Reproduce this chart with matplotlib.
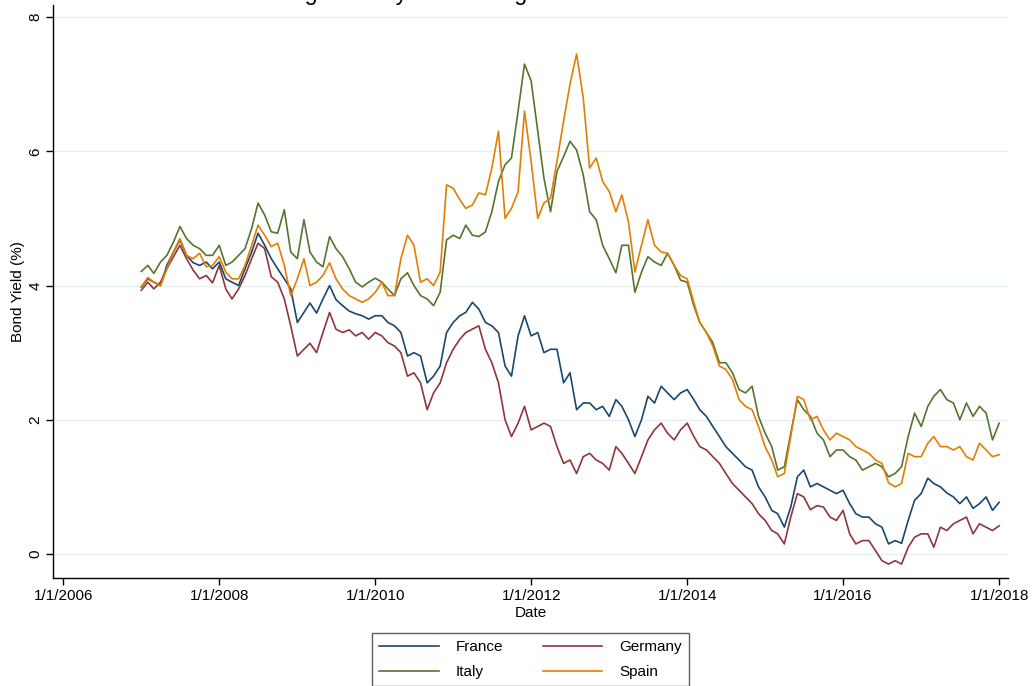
import matplotlib
matplotlib.use('Agg')
import matplotlib.pyplot as plt
import matplotlib.dates as mdates
import pandas as pd

plt.rcParams['font.family'] = ['Liberation Sans', 'DejaVu Sans']

# monthly 10-year government bond yields (%), Jan 2007 - Jan 2018
dates = pd.date_range('2007-01-01', '2018-01-01', freq='MS')

france = [
    3.98, 4.10, 4.05, 4.00, 4.30, 4.50, 4.68, 4.45, 4.34, 4.30, 4.35, 4.25,
    4.35, 4.10, 4.05, 4.00, 4.25, 4.50, 4.78, 4.60, 4.40, 4.25, 4.10, 3.95,
    3.45, 3.60, 3.74, 3.59, 3.80, 4.00, 3.79, 3.70, 3.62, 3.58, 3.55, 3.50,
    3.55, 3.55, 3.45, 3.40, 3.30, 2.95, 3.00, 2.95, 2.55, 2.65, 2.80, 3.30,
    3.45, 3.55, 3.60, 3.75, 3.65, 3.45, 3.40, 3.30, 2.80, 2.65, 3.25, 3.55,
    3.25, 3.30, 3.00, 3.05, 3.05, 2.55, 2.70, 2.15, 2.25, 2.25, 2.15, 2.20,
    2.05, 2.30, 2.20, 2.00, 1.75, 2.00, 2.35, 2.25, 2.50, 2.40, 2.30, 2.40,
    2.45, 2.30, 2.15, 2.05, 1.90, 1.75, 1.60, 1.50, 1.40, 1.30, 1.25, 1.00,
    0.85, 0.65, 0.60, 0.40, 0.70, 1.15, 1.25, 1.00, 1.05, 1.00, 0.95, 0.90,
    0.95, 0.75, 0.60, 0.55, 0.55, 0.45, 0.40, 0.15, 0.20, 0.16, 0.50, 0.80,
    0.90, 1.13, 1.05, 1.00, 0.91, 0.85, 0.75, 0.85, 0.68, 0.75, 0.85, 0.65,
    0.77,
]
germany = [
    3.93, 4.05, 3.95, 4.05, 4.25, 4.43, 4.60, 4.40, 4.23, 4.10, 4.15, 4.04,
    4.30, 3.95, 3.80, 3.95, 4.15, 4.40, 4.63, 4.55, 4.13, 4.05, 3.80, 3.40,
    2.95, 3.05, 3.14, 3.00, 3.30, 3.60, 3.35, 3.30, 3.34, 3.25, 3.30, 3.20,
    3.30, 3.25, 3.15, 3.10, 3.00, 2.65, 2.70, 2.55, 2.15, 2.40, 2.55, 2.85,
    3.05, 3.20, 3.30, 3.35, 3.40, 3.05, 2.85, 2.55, 2.00, 1.75, 1.95, 2.20,
    1.85, 1.90, 1.95, 1.90, 1.60, 1.35, 1.40, 1.20, 1.45, 1.50, 1.40, 1.35,
    1.25, 1.60, 1.50, 1.35, 1.20, 1.45, 1.70, 1.85, 1.95, 1.80, 1.70, 1.85,
    1.95, 1.75, 1.60, 1.55, 1.45, 1.35, 1.20, 1.05, 0.95, 0.85, 0.75, 0.60,
    0.50, 0.35, 0.30, 0.15, 0.55, 0.90, 0.85, 0.66, 0.72, 0.70, 0.55, 0.50,
    0.65, 0.30, 0.15, 0.20, 0.20, 0.05, -0.10, -0.15, -0.10, -0.15, 0.10, 0.25,
    0.30, 0.30, 0.10, 0.40, 0.35, 0.45, 0.50, 0.55, 0.30, 0.45, 0.40, 0.35,
    0.42,
]
italy = [
    4.21, 4.30, 4.18, 4.35, 4.45, 4.65, 4.88, 4.70, 4.60, 4.55, 4.45, 4.45,
    4.60, 4.30, 4.35, 4.45, 4.55, 4.85, 5.23, 5.05, 4.80, 4.78, 5.13, 4.50,
    4.40, 4.98, 4.50, 4.35, 4.28, 4.73, 4.55, 4.43, 4.25, 4.05, 3.98, 4.05,
    4.11, 4.05, 3.95, 3.85, 4.10, 4.19, 4.00, 3.85, 3.80, 3.70, 3.90, 4.68,
    4.75, 4.70, 4.90, 4.75, 4.73, 4.80, 5.10, 5.55, 5.80, 5.90, 6.60, 7.30,
    7.05, 6.30, 5.60, 5.10, 5.70, 5.92, 6.15, 6.02, 5.65, 5.10, 4.98, 4.60,
    4.40, 4.19, 4.60, 4.60, 3.90, 4.20, 4.43, 4.35, 4.30, 4.48, 4.30, 4.08,
    4.05, 3.70, 3.45, 3.30, 3.15, 2.85, 2.85, 2.70, 2.45, 2.40, 2.50, 2.05,
    1.80, 1.60, 1.25, 1.30, 1.80, 2.30, 2.15, 2.05, 1.80, 1.70, 1.45, 1.55,
    1.55, 1.45, 1.40, 1.25, 1.30, 1.35, 1.30, 1.15, 1.20, 1.30, 1.75, 2.10,
    1.90, 2.20, 2.35, 2.45, 2.30, 2.25, 2.00, 2.25, 2.05, 2.20, 2.10, 1.70,
    1.95,
]
spain = [
    3.98, 4.12, 4.05, 4.00, 4.25, 4.50, 4.70, 4.45, 4.40, 4.48, 4.28, 4.30,
    4.43, 4.20, 4.10, 4.10, 4.30, 4.60, 4.90, 4.75, 4.58, 4.63, 4.30, 3.85,
    4.10, 4.40, 4.00, 4.05, 4.15, 4.34, 4.10, 3.95, 3.85, 3.80, 3.75, 3.80,
    3.90, 4.05, 3.85, 3.85, 4.40, 4.75, 4.60, 4.05, 4.10, 4.00, 4.20, 5.50,
    5.45, 5.28, 5.15, 5.20, 5.38, 5.35, 5.75, 6.30, 5.00, 5.15, 5.40, 6.60,
    5.85, 5.00, 5.23, 5.30, 5.85, 6.45, 7.00, 7.45, 6.80, 5.75, 5.90, 5.55,
    5.40, 5.10, 5.35, 4.95, 4.20, 4.60, 4.98, 4.60, 4.50, 4.48, 4.30, 4.15,
    4.10, 3.75, 3.45, 3.30, 3.10, 2.80, 2.75, 2.60, 2.30, 2.20, 2.15, 1.90,
    1.60, 1.40, 1.15, 1.20, 1.75, 2.35, 2.30, 2.00, 2.05, 1.85, 1.70, 1.80,
    1.75, 1.70, 1.60, 1.55, 1.50, 1.40, 1.35, 1.06, 1.00, 1.05, 1.50, 1.45,
    1.45, 1.65, 1.75, 1.60, 1.60, 1.55, 1.60, 1.45, 1.40, 1.65, 1.55, 1.45,
    1.48,
]

countries = ['France', 'Germany', 'Italy', 'Spain']
colors = ['#1a476f', '#90353b', '#55752f', '#e37e00']
yticks = [0, 2, 4, 6, 8]
xticks = pd.to_datetime(['2006-01-01', '2008-01-01', '2010-01-01',
                         '2012-01-01', '2014-01-01', '2016-01-01', '2018-01-01'])


def main():
    fig = plt.figure(figsize=(10.33, 6.86), dpi=100)
    ax = fig.add_axes([0.0516, 0.1574, 0.9245, 0.8353])

    lines = {}
    for name, vals, c in zip(countries, [france, germany, italy, spain], colors):
        ln, = ax.plot(dates, vals, color=c, lw=1.2, label=name)
        lines[name] = ln

    ax.set_xlim(pd.Timestamp('2005-11-15'), pd.Timestamp('2018-02-13'))
    ax.set_ylim(-0.358, 8.18)

    ax.set_yticks(yticks)
    ax.set_xticks(xticks)
    ax.xaxis.set_major_formatter(mdates.DateFormatter('%-m/%-d/%Y'))
    ax.yaxis.grid(True, color='#e6eef0', lw=1)
    ax.set_axisbelow(True)

    for s in ['top', 'right']:
        ax.spines[s].set_visible(False)
    for s in ['left', 'bottom']:
        ax.spines[s].set_linewidth(1.0)

    ax.tick_params(axis='both', direction='out', length=5, width=1, labelsize=11, pad=3)
    for lab in ax.get_yticklabels():
        lab.set_rotation(90)
        lab.set_va('center')

    ax.set_xlabel('Date', fontsize=11, labelpad=2)
    ax.set_ylabel('Bond Yield (%)', fontsize=11, labelpad=2)

    # heading sits mostly above the saved area
    fig.text(225 / 1033, 1.0, 'Sovereign bond yields during the Eurozone crisis',
             fontsize=16.8, ha='left', va='baseline')

    order = ['France', 'Italy', 'Germany', 'Spain']
    fig.legend([lines[n] for n in order], order, ncol=2,
               loc='upper center', bbox_to_anchor=(530.5 / 1033, 1 - 633 / 686),
               fontsize=11, frameon=True, fancybox=False, edgecolor='#333333',
               handlelength=3.9, handletextpad=1.1, columnspacing=2.6,
               borderpad=0.45, labelspacing=0.75, borderaxespad=0)

    fig.savefig('out.png', dpi=100)


if __name__ == '__main__':
    main()
